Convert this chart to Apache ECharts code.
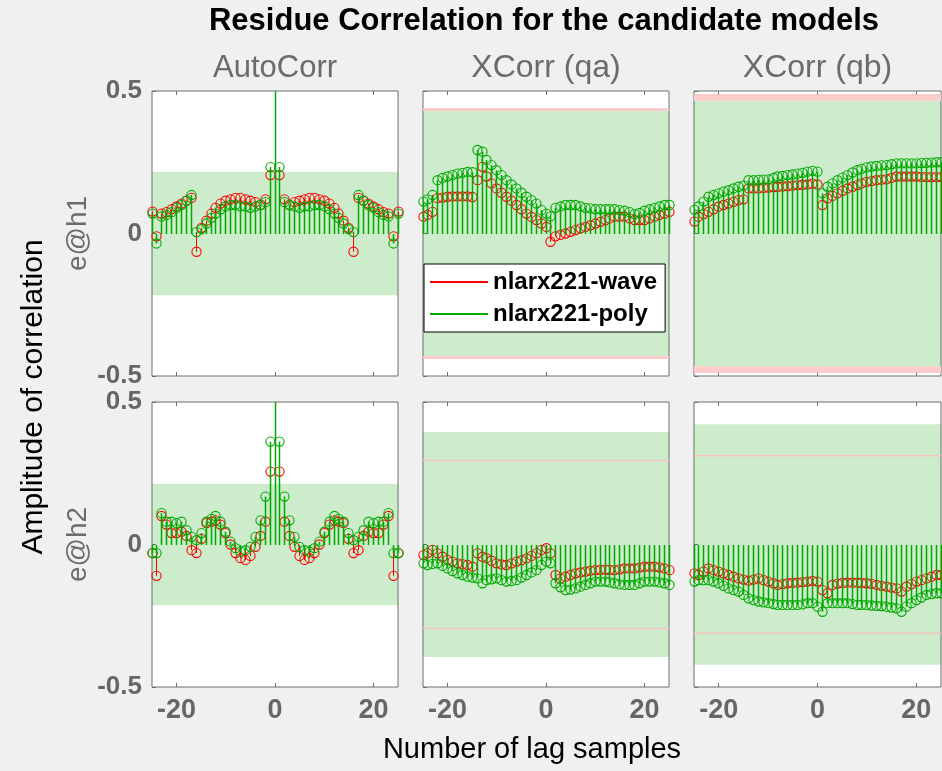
<!DOCTYPE html>
<html>
<head>
<meta charset="utf-8">
<script src="https://cdn.jsdelivr.net/npm/echarts@6/dist/echarts.min.js"></script>
<style>
html,body{margin:0;padding:0;background:#f0f0f0;}
#chart{width:942px;height:771px;}
</style>
</head>
<body>
<div id="chart"></div>
<script>
// ---------- data ----------
const lags = [-25,-24,-23,-22,-21,-20,-19,-18,-17,-16,-15,-14,-13,-12,-11,-10,-9,-8,-7,-6,-5,-4,-3,-2,-1,
  0,1,2,3,4,5,6,7,8,9,10,11,12,13,14,15,16,17,18,19,20,21,22,23,24,25];
const xTicks = [-20, 0, 20];
const yTicks = [-0.5, 0, 0.5];
const columnTitles = ['AutoCorr', 'XCorr (qa)', 'XCorr (qb)'];
const rowLabels = ['e@h1', 'e@h2'];
const seriesNames = ['nlarx221-wave', 'nlarx221-poly'];

// row 1 (e@h1)
const autoWaveH1 = [0.077,-0.01,0.07,0.075,0.085,0.095,0.105,0.115,0.125,-0.064,0.02,0.045,0.07,0.09,0.105,0.115,0.12,0.125,0.125,0.12,0.115,0.11,0.1,0.12,0.205,
  1,0.205,0.12,0.1,0.11,0.115,0.12,0.125,0.125,0.12,0.115,0.105,0.09,0.07,0.045,0.02,-0.064,0.125,0.115,0.105,0.095,0.085,0.075,0.07,-0.01,0.077];
const autoPolyH1 = [0.07,-0.035,0.06,0.065,0.075,0.09,0.1,0.115,0.135,0.005,0.015,0.035,0.055,0.07,0.085,0.095,0.1,0.1,0.095,0.095,0.09,0.095,0.1,0.11,0.233,
  1,0.233,0.11,0.1,0.095,0.09,0.095,0.095,0.1,0.1,0.095,0.085,0.07,0.055,0.035,0.015,0.005,0.135,0.115,0.1,0.09,0.075,0.065,0.06,-0.035,0.07];
const qaWaveH1 = [0.059,0.065,0.076,0.124,0.126,0.129,0.13,0.13,0.13,0.13,0.128,0.187,0.234,0.2,0.176,0.158,0.143,0.129,0.115,0.1,0.085,0.07,0.058,0.047,0.035,
  0.023,-0.029,-0.01,-0.005,0.0,0.006,0.012,0.018,0.023,0.029,0.035,0.041,0.047,0.053,0.059,0.059,0.059,0.053,0.047,0.047,0.047,0.053,0.059,0.065,0.07,0.076];
const qaPolyH1 = [0.112,0.12,0.135,0.187,0.195,0.2,0.205,0.21,0.213,0.216,0.215,0.293,0.287,0.258,0.24,0.222,0.205,0.187,0.172,0.158,0.143,0.129,0.117,0.105,0.082,
  0.07,0.06,0.09,0.095,0.1,0.1,0.1,0.095,0.09,0.088,0.085,0.085,0.085,0.085,0.085,0.082,0.08,0.075,0.068,0.072,0.08,0.085,0.09,0.095,0.1,0.1];
const qbWaveH1 = [0.042,0.059,0.068,0.076,0.085,0.094,0.1,0.105,0.111,0.117,0.12,0.158,0.158,0.158,0.16,0.161,0.163,0.164,0.165,0.166,0.168,0.17,0.171,0.172,0.175,
  0.172,0.1,0.123,0.132,0.141,0.15,0.158,0.164,0.17,0.176,0.181,0.184,0.187,0.189,0.19,0.195,0.2,0.2,0.2,0.2,0.2,0.199,0.198,0.198,0.198,0.198];
const qbPolyH1 = [0.083,0.095,0.112,0.129,0.135,0.141,0.147,0.152,0.158,0.164,0.168,0.187,0.187,0.188,0.189,0.19,0.195,0.2,0.202,0.205,0.207,0.21,0.213,0.217,0.22,
  0.217,0.141,0.164,0.176,0.187,0.196,0.205,0.214,0.222,0.227,0.232,0.235,0.237,0.239,0.24,0.243,0.246,0.246,0.246,0.246,0.246,0.247,0.248,0.249,0.25,0.25];

// row 2 (e@h2)
const autoWaveH2 = [-0.03,-0.11,0.1,0.07,0.04,0.04,0.045,0.03,-0.02,-0.03,0.02,0.075,0.08,0.085,0.07,0.04,0.0,-0.03,-0.048,-0.054,-0.04,-0.008,0.03,0.08,0.256,
  1,0.256,0.08,0.03,-0.008,-0.04,-0.054,-0.048,-0.03,0.0,0.04,0.07,0.085,0.08,0.075,0.02,-0.03,-0.02,0.03,0.045,0.04,0.04,0.07,0.1,-0.11,-0.03];
const autoPolyH2 = [-0.03,-0.03,0.11,0.08,0.08,0.075,0.08,0.05,0.027,0.015,0.04,0.08,0.09,0.1,0.08,0.045,0.01,-0.013,-0.025,-0.02,-0.008,0.027,0.085,0.168,0.361,
  1,0.361,0.168,0.085,0.027,-0.008,-0.02,-0.025,-0.013,0.01,0.045,0.08,0.1,0.09,0.08,0.04,0.015,0.027,0.05,0.08,0.075,0.08,0.08,0.11,-0.03,-0.03];
const qaWaveH2 = [-0.037,-0.03,-0.019,-0.031,-0.043,-0.054,-0.06,-0.066,-0.069,-0.072,-0.078,-0.031,-0.043,-0.048,-0.057,-0.066,-0.07,-0.072,-0.066,-0.06,-0.055,-0.049,-0.04,-0.031,-0.019,
  -0.013,-0.031,-0.107,-0.119,-0.113,-0.107,-0.101,-0.098,-0.095,-0.092,-0.09,-0.089,-0.088,-0.089,-0.09,-0.087,-0.084,-0.084,-0.084,-0.081,-0.078,-0.078,-0.078,-0.08,-0.084,-0.09];
const qaPolyH2 = [-0.066,-0.072,-0.068,-0.066,-0.075,-0.084,-0.093,-0.101,-0.107,-0.113,-0.116,-0.119,-0.136,-0.125,-0.122,-0.119,-0.125,-0.13,-0.128,-0.125,-0.116,-0.107,-0.098,-0.09,-0.072,
  -0.06,-0.066,-0.136,-0.15,-0.16,-0.158,-0.154,-0.148,-0.142,-0.136,-0.13,-0.13,-0.13,-0.133,-0.136,-0.14,-0.142,-0.142,-0.142,-0.136,-0.13,-0.13,-0.13,-0.133,-0.136,-0.142];
const qbWaveH2 = [-0.101,-0.107,-0.095,-0.084,-0.09,-0.095,-0.101,-0.107,-0.113,-0.119,-0.123,-0.127,-0.123,-0.119,-0.125,-0.13,-0.136,-0.142,-0.139,-0.136,-0.135,-0.134,-0.132,-0.13,-0.128,
  -0.13,-0.16,-0.171,-0.142,-0.137,-0.135,-0.134,-0.134,-0.134,-0.135,-0.136,-0.138,-0.142,-0.145,-0.148,-0.151,-0.154,-0.165,-0.148,-0.139,-0.13,-0.125,-0.119,-0.113,-0.107,-0.107];
const qbPolyH2 = [-0.13,-0.125,-0.125,-0.125,-0.13,-0.136,-0.145,-0.154,-0.16,-0.165,-0.177,-0.189,-0.195,-0.2,-0.203,-0.206,-0.209,-0.212,-0.212,-0.212,-0.212,-0.212,-0.21,-0.206,-0.206,
  -0.218,-0.236,-0.206,-0.206,-0.206,-0.206,-0.206,-0.209,-0.212,-0.212,-0.212,-0.214,-0.215,-0.216,-0.218,-0.221,-0.224,-0.236,-0.218,-0.206,-0.195,-0.186,-0.177,-0.174,-0.171,-0.171];

// confidence bounds per panel [row][col]
const polyBound = [[0.217, 0.43, 0.466], [0.213, 0.395, 0.422]];
const waveBound = [[null, 0.437, 0.486], [null, 0.295, 0.311]];

// ---------- layout ----------
const FONT = '"Liberation Sans", Arial, Helvetica, sans-serif';
const gridLeft = [152, 423, 694];
const gridWidth = [246, 246, 247];
const gridTop = [91, 402];
const gridHeight = 285;
const RED = '#ff0000', GREEN = '#00a800';
const BOX = '#6f6f6f';

const waveData = [[autoWaveH1, qaWaveH1, qbWaveH1], [autoWaveH2, qaWaveH2, qbWaveH2]];
const polyData = [[autoPolyH1, qaPolyH1, qbPolyH1], [autoPolyH2, qaPolyH2, qbPolyH2]];

const grids = [], xAxes = [], yAxes = [], series = [];

function bandRender(params, api) {
  const cs = params.coordSys;
  const g = api.value(0), r = api.value(1);
  const yTop = api.coord([0, g])[1], yBot = api.coord([0, -g])[1];
  const children = [{
    type: 'rect',
    shape: {x: cs.x, y: yTop, width: cs.width, height: yBot - yTop},
    style: {fill: 'rgba(0,160,0,0.2)'}
  }];
  if (!isNaN(r)) {
    const rTop = api.coord([0, r])[1], rBot = api.coord([0, -r])[1];
    if (r > g) {
      children.push({type: 'rect', shape: {x: cs.x, y: rTop, width: cs.width, height: yTop - rTop}, style: {fill: '#ffcccc'}});
      children.push({type: 'rect', shape: {x: cs.x, y: yBot, width: cs.width, height: rBot - yBot}, style: {fill: '#ffcccc'}});
    }
    children.push({type: 'line', shape: {x1: cs.x, y1: rTop, x2: cs.x + cs.width, y2: rTop}, style: {stroke: '#f7c3c3', lineWidth: 1.5}});
    children.push({type: 'line', shape: {x1: cs.x, y1: rBot, x2: cs.x + cs.width, y2: rBot}, style: {stroke: '#f7c3c3', lineWidth: 1.5}});
  }
  return {type: 'group', children};
}

function stemRender(color, stemWidth) {
  return function (params, api) {
    const cs = params.coordSys;
    const x = api.value(0), y = api.value(1);
    const p0 = api.coord([x, 0]);
    const p1 = api.coord([x, y]);
    const px = Math.floor(p0[0] + 0.001) + 0.5;
    const y0 = Math.round(p0[1]);
    const inside = p1[1] >= cs.y && p1[1] <= cs.y + cs.height;
    const yEnd = Math.min(Math.max(p1[1], cs.y), cs.y + cs.height);
    const top = Math.min(y0, yEnd), h = Math.abs(yEnd - y0);
    const children = [
      {type: 'rect', shape: {x: px - stemWidth / 2, y: top, width: stemWidth, height: h}, style: {fill: color, stroke: null}}
    ];
    if (inside) {
      children.push({type: 'circle', shape: {cx: px, cy: p1[1], r: 4.6}, style: {stroke: color, fill: null, lineWidth: 1.1}});
    }
    return {type: 'group', children};
  };
}

for (let row = 0; row < 2; row++) {
  for (let col = 0; col < 3; col++) {
    const g = row * 3 + col;
    grids.push({left: gridLeft[col], top: gridTop[row], width: gridWidth[col], height: gridHeight,
      show: true, backgroundColor: '#ffffff', borderColor: BOX, borderWidth: 1});
    xAxes.push({type: 'value', gridIndex: g, min: -25, max: 25, position: 'bottom',
      axisLine: {show: false, onZero: false}, splitLine: {show: false},
      axisTick: {show: true, inside: true, length: 4, lineStyle: {color: BOX}, customValues: xTicks},
      axisLabel: {show: row === 1, customValues: xTicks, color: '#666666', fontWeight: 'bold', fontSize: 27, fontFamily: FONT, margin: 10}
    });
    yAxes.push({type: 'value', gridIndex: g, min: -0.5, max: 0.5, position: 'left',
      axisLine: {show: false, onZero: false}, splitLine: {show: false},
      axisTick: {show: true, inside: true, length: 4, lineStyle: {color: BOX}, customValues: yTicks},
      axisLabel: {show: col === 0, customValues: yTicks, color: '#666666', fontWeight: 'bold', fontSize: 26, fontFamily: FONT, margin: 10,
        formatter: v => String(v)}
    });
  }
}
for (let g = 0; g < 6; g++) {
  xAxes.push({type: 'value', gridIndex: g, min: -25, max: 25, position: 'top',
    axisLine: {show: false, onZero: false}, splitLine: {show: false},
    axisTick: {show: true, inside: true, length: 4, lineStyle: {color: BOX}, customValues: xTicks},
    axisLabel: {show: false}});
}
for (let row = 0; row < 2; row++) {
  for (let col = 0; col < 3; col++) {
    const g = row * 3 + col;
    series.push({type: 'custom', name: 'band' + g, xAxisIndex: g, yAxisIndex: g, silent: true, z: 1,
      data: [[polyBound[row][col], waveBound[row][col] === null ? NaN : waveBound[row][col]]],
      renderItem: bandRender});
    series.push({type: 'custom', name: seriesNames[0], xAxisIndex: g, yAxisIndex: g, z: 2,
      itemStyle: {color: RED},
      data: lags.map((l, i) => [l, waveData[row][col][i]]), renderItem: stemRender(RED, 1)});
    series.push({type: 'custom', name: seriesNames[1], xAxisIndex: g, yAxisIndex: g, z: 3,
      itemStyle: {color: GREEN},
      data: lags.map((l, i) => [l, polyData[row][col][i]]), renderItem: stemRender(GREEN, 1.5)});
  }
}

const graphic = [
  {type: 'text', x: 544, y: 21, style: {text: 'Residue Correlation for the candidate models', font: 'bold 31px ' + FONT, fill: '#000', align: 'center', verticalAlign: 'middle'}},
  {type: 'text', x: 532, y: 750, style: {text: 'Number of lag samples', font: '29px ' + FONT, fill: '#000', align: 'center', verticalAlign: 'middle'}},
  {type: 'text', x: 34, y: 397, rotation: Math.PI / 2, style: {text: 'Amplitude of correlation', font: '30px ' + FONT, fill: '#000', align: 'center', verticalAlign: 'middle'}}
];
const colFont = [31, 32, 32];
columnTitles.forEach((t, c) => graphic.push({type: 'text', x: gridLeft[c] + gridWidth[c] / 2, y: 68,
  style: {text: t, font: colFont[c] + 'px ' + FONT, fill: '#6b6b6b', align: 'center', verticalAlign: 'middle'}}));
rowLabels.forEach((t, r) => graphic.push({type: 'text', x: 78, y: gridTop[r] + gridHeight / 2, rotation: Math.PI / 2,
  style: {text: t, font: '28px ' + FONT, fill: '#6b6b6b', align: 'center', verticalAlign: 'middle'}}));

const option = {
  backgroundColor: '#f0f0f0',
  animation: false,
  grid: grids,
  xAxis: xAxes,
  yAxis: yAxes,
  legend: {
    data: seriesNames, orient: 'vertical', left: 424, top: 264, z: 10,
    backgroundColor: '#ffffff', borderColor: '#000000', borderWidth: 1, borderRadius: 0,
    padding: [6, 8, 6, 6], itemGap: 8, itemWidth: 58, itemHeight: 2, icon: 'rect',
    textStyle: {fontSize: 24, fontWeight: 'bold', color: '#000', fontFamily: FONT}
  },
  graphic: graphic,
  series: series
};

const chart = echarts.init(document.getElementById('chart'), null, {renderer: 'canvas'});
chart.setOption(option);
</script>
</body>
</html>
